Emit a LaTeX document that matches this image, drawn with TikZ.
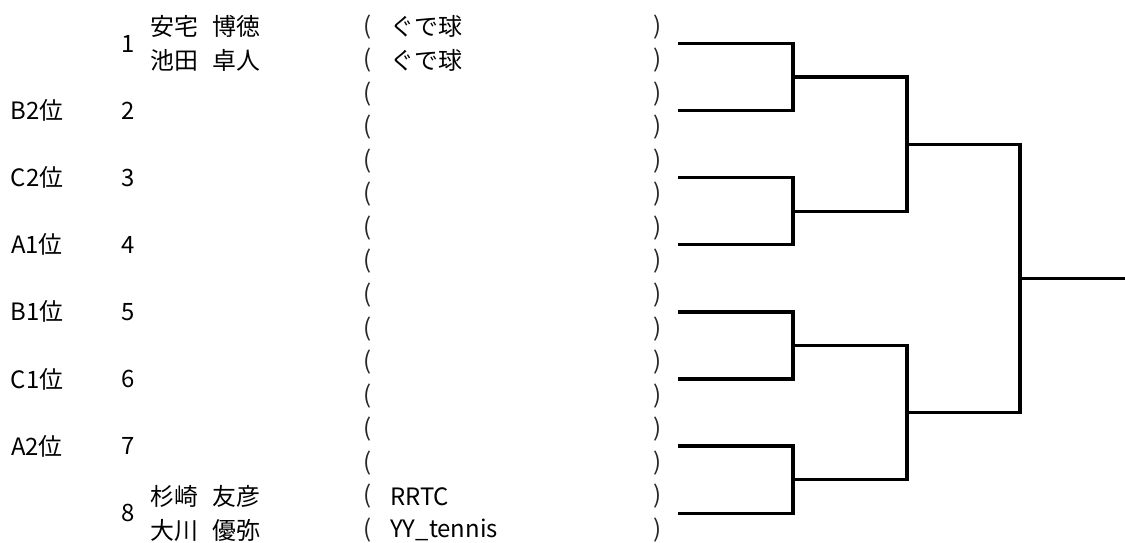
\documentclass[tikz,border=0pt]{standalone}
\usepackage{fontspec}
\setmainfont{Noto Sans CJK JP}

\tikzstyle{txt}=[inner sep=0pt,font=\fontsize{17}{20}\selectfont]
\tikzstyle{player}=[txt,anchor=west]
\tikzstyle{paren}=[txt,text=black!85]
\tikzstyle{edge}=[line width=2.3pt]

\begin{document}
\begin{tikzpicture}[x=0.025cm,y=-0.025cm]
    \useasboundingbox (0,0) rectangle (1125,542);

    \foreach \r in {1,...,16} {
        \node (open\r)[paren] at (368,{26.7+33.55*(\r-1)}) {(};
        \node (close\r)[paren] at (658,{26.7+33.55*(\r-1)}) {)};
    }

    \node (seed1)[txt] at (128,43.5) {1};
    \node (seed2)[txt] at (128,110.6) {2};
    \node (seed3)[txt] at (128,177.7) {3};
    \node (seed4)[txt] at (128,244.8) {4};
    \node (seed5)[txt] at (128,311.9) {5};
    \node (seed6)[txt] at (128,379) {6};
    \node (seed7)[txt] at (128,446.1) {7};
    \node (seed8)[txt] at (128,513.2) {8};

    \node (rank2)[txt] at (37,110.6) {B2位};
    \node (rank3)[txt] at (37,177.7) {C2位};
    \node (rank4)[txt] at (37,244.8) {A1位};
    \node (rank5)[txt] at (37,311.9) {B1位};
    \node (rank6)[txt] at (37,379) {C1位};
    \node (rank7)[txt] at (37,446.1) {A2位};

    \node (name1a)[player] at (150,26.7) {安宅\hspace{0.6em}博徳};
    \node (name1b)[player] at (150,60.25) {池田\hspace{0.6em}卓人};
    \node (name8a)[player] at (150,496.4) {杉崎\hspace{0.6em}友彦};
    \node (name8b)[player] at (150,530) {大川\hspace{0.6em}優弥};

    \node (team1a)[player] at (390,26.7) {ぐで球};
    \node (team1b)[player] at (390,60.25) {ぐで球};
    \node (team8a)[player] at (390,496.4) {RRTC};
    \node (team8b)[player] at (390,530) {YY\_tennis};

    % first round
    \coordinate (e1) at (678,43.5);
    \coordinate (e2) at (678,110.6);
    \coordinate (e3) at (678,177.7);
    \coordinate (e4) at (678,244.8);
    \coordinate (e5) at (678,311.9);
    \coordinate (e6) at (678,379);
    \coordinate (e7) at (678,446.1);
    \coordinate (e8) at (678,513.2);
    \coordinate (q1) at (793,77.05);
    \coordinate (q2) at (793,211.25);
    \coordinate (q3) at (793,345.45);
    \coordinate (q4) at (793,479.65);
    \coordinate (h1) at (907,144.15);
    \coordinate (h2) at (907,412.55);
    \coordinate (f) at (1020,278.35);
    \coordinate (win) at (1125,278.35);

    \draw[edge] (e1) -| (q1) |- (e2);
    \draw[edge] (e3) -| (q2) |- (e4);
    \draw[edge] (e5) -| (q3) |- (e6);
    \draw[edge] (e7) -| (q4) |- (e8);
    \draw[edge] (q1) -| (h1) |- (q2);
    \draw[edge] (q3) -| (h2) |- (q4);
    \draw[edge] (h1) -| (f) |- (h2);
    \draw[edge] (f) -- (win);
\end{tikzpicture}
\end{document}
